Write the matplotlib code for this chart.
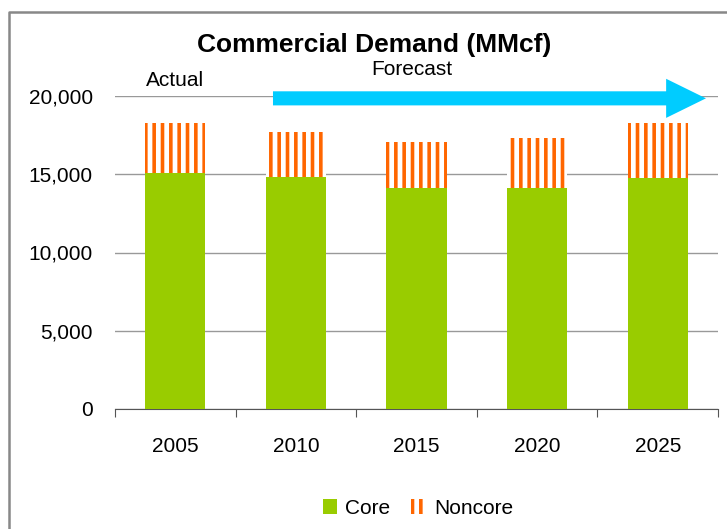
import numpy as np
import matplotlib
matplotlib.use('Agg')
import matplotlib.pyplot as plt
from matplotlib.patches import Patch, FancyArrow
from matplotlib.lines import Line2D
from matplotlib.ticker import FuncFormatter

plt.rcParams['font.family'] = ['Liberation Sans', 'DejaVu Sans']
plt.rcParams['hatch.linewidth'] = 2.6

years = ['2005', '2010', '2015', '2020', '2025']
core = [15100, 14850, 14100, 14100, 14750]
noncore = [3150, 2880, 2980, 3230, 3500]

green = '#99CC00'
orange = '#FF6600'
blue = '#00CCFF'

fig = plt.figure(figsize=(7.27, 5.29), dpi=100)
ax = fig.add_axes([115/727, 1 - 409/529, (718 - 115)/727, (409 - 96)/529])

x = np.arange(len(years))
ax.bar(x, core, width=0.5, color=green, linewidth=0, zorder=3)
ax.bar(x, noncore, width=0.5, bottom=core, facecolor='white', edgecolor=orange,
       hatch='||', linewidth=0, zorder=3)

ax.set_xlim(-0.5, len(years) - 0.5)
ax.set_ylim(0, 20000)
ax.set_yticks(np.arange(0, 20001, 5000))
ax.yaxis.set_major_formatter(FuncFormatter(lambda v, p: '{:,.0f}'.format(v)))
ax.grid(axis='y', color='#999999', linewidth=1, zorder=0)
ax.tick_params(axis='y', length=0, pad=16, labelsize=15)

ax.set_xticks(np.arange(-0.5, len(years)), [''] * (len(years) + 1))
ax.set_xticks(x, years, minor=True)
ax.tick_params(axis='x', which='major', direction='out', length=6, color='#555555')
ax.tick_params(axis='x', which='minor', length=0, pad=20, labelsize=15)

for s in ['top', 'right', 'left']:
    ax.spines[s].set_visible(False)
ax.spines['bottom'].set_color('#555555')

# forecast arrow
arr = FancyArrow(0.81, 19850, 3.59, 0, width=900, head_width=2500, head_length=0.33,
                 length_includes_head=True, color=blue, linewidth=0, clip_on=False, zorder=4)
ax.add_patch(arr)
ax.text(0.0, 20400, 'Actual', fontsize=15, ha='center', va='bottom')
ax.text(1.96, 21100, 'Forecast', fontsize=15, ha='center', va='bottom')

fig.text(374/727, 1 - 45/529, 'Commercial Demand (MMcf)', fontsize=19,
         fontweight='bold', ha='center', va='center')

handles = [Patch(facecolor=green, linewidth=0),
           Patch(facecolor='white', edgecolor=orange, hatch='||', linewidth=0)]
fig.legend(handles, ['Core', 'Noncore'], loc='center', bbox_to_anchor=(418/727, 1 - 508/529),
           ncol=2, frameon=False, fontsize=15, handlelength=0.7, handleheight=0.7,
           handletextpad=0.4, columnspacing=1.0)

# outer border (cropped at right/bottom)
bx = 9/727
by = 1 - 12/529
fig.add_artist(Line2D([bx, bx, 1], [0, by, by], transform=fig.transFigure,
                      color='#888888', linewidth=1.8))

plt.savefig('out.png', dpi=100)
